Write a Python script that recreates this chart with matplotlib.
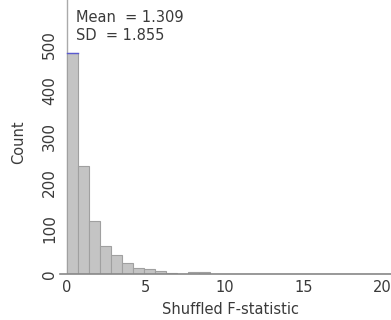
import matplotlib.pyplot as plt
import numpy as np

plt.rcParams['font.family'] = ['DejaVu Sans']

# histogram of shuffled F-statistics (bin width 0.7)
bin_width = 0.7
counts = [482, 235, 115, 61, 41, 24, 14, 11, 6, 2, 1, 4, 4, 1,
          1, 1, 0, 0, 0, 1, 0, 0, 1, 0, 0, 0, 0, 0, 0, 0]
edges = np.arange(len(counts) + 1) * bin_width
mean_val = 1.309
sd_val = 1.855

fig = plt.figure(figsize=(3.91, 3.2), dpi=100)
ax = fig.add_axes([60 / 391, (320 - 274) / 320, 331 / 391, 274 / 320])

ax.bar(edges[:-1], counts, width=bin_width, align="edge",
       color="#c4c4c4", edgecolor="#a0a0a0", linewidth=0.8, zorder=2)
# blue mark on top of tallest bar
ax.plot([edges[0], edges[1]], [counts[0], counts[0]], color="#5a5ad0", lw=1, zorder=3)
ax.axvline(0, color="#aaaaaa", lw=1, zorder=1)

px = 15.75  # pixels per unit on x
ax.set_xlim(-7 / px, (391 - 67) / px)
ax.set_ylim(0, 274 / 0.458)
for s in ["top", "right", "left"]:
    ax.spines[s].set_visible(False)
ax.spines["bottom"].set_color("#888888")
ax.spines["bottom"].set_linewidth(1.2)

ax.set_xticks([0, 5, 10, 15, 20])
ax.set_yticks([0, 100, 200, 300, 400, 500])
ax.tick_params(axis="both", length=0, colors="#3a3a3a")
ax.tick_params(axis="x", pad=4, labelsize=10.5)
ax.tick_params(axis="y", pad=2, labelsize=11)
for lab in ax.get_yticklabels():
    lab.set_rotation(90)
    lab.set_va("center")

fig.text(231 / 391, 1 - 310 / 320, "Shuffled F-statistic",
         fontsize=10.5, color="#3a3a3a", ha="center", va="center")
fig.text(19 / 391, 1 - 142 / 320, "Count", rotation=90, fontsize=10.5,
         color="#3a3a3a", ha="center", va="center")

fig.text(76 / 391, 1 - 17 / 320, f"Mean  = {mean_val:.3f}", fontsize=10.5,
         color="#3a3a3a", va="center")
fig.text(76 / 391, 1 - 36 / 320, f"SD  = {sd_val:.3f}", fontsize=10.5,
         color="#3a3a3a", va="center")

plt.savefig("out.png", dpi=100)
